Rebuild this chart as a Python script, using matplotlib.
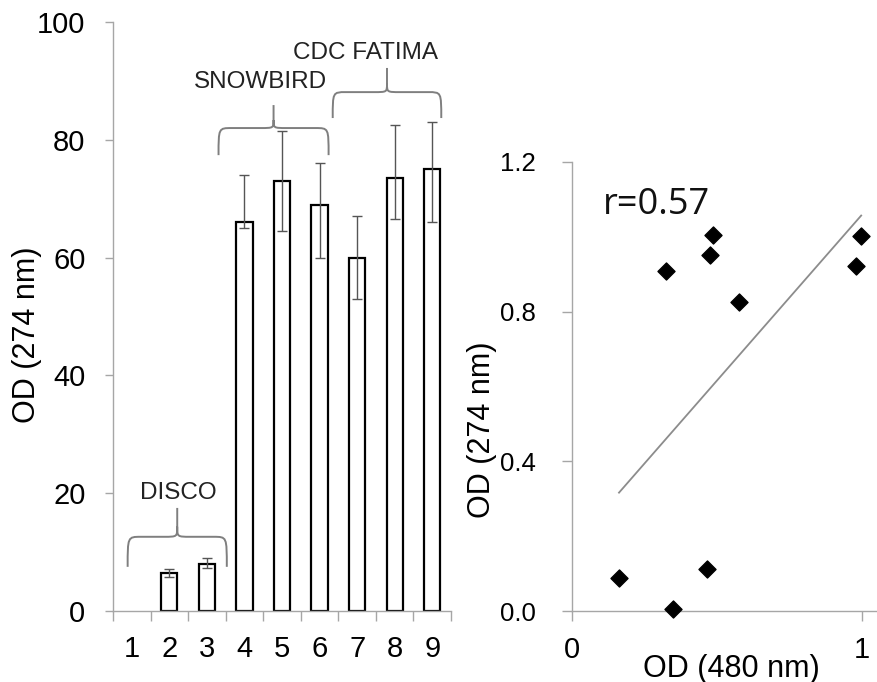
import numpy as np
import matplotlib
matplotlib.use("Agg")
import matplotlib.pyplot as plt
from matplotlib.path import Path
from matplotlib.patches import PathPatch

# --- bar chart data: OD at 274 nm per sample ---
samples = [1, 2, 3, 4, 5, 6, 7, 8, 9]
od274 = [0, 6.4, 8.0, 66, 73, 69, 60, 73.5, 75]
err_low = [0, 0.7, 0.7, 1.0, 8.5, 9.0, 7.0, 7.0, 9.0]
err_high = [0, 0.7, 1.0, 8.0, 8.5, 7.0, 7.0, 9.0, 8.0]
y_ticks_left = [0, 20, 40, 60, 80, 100]

# cultivar groups: (label, first sample, last sample)
groups = [("DISCO", 1, 3), ("SNOWBIRD", 4, 6), ("CDC FATIMA", 7, 9)]

# --- scatter data: OD 480 nm vs OD 274 nm ---
od480_x = [0.162, 0.324, 0.348, 0.465, 0.476, 0.486, 0.576, 0.979, 0.997]
od274_y = [0.088, 0.909, 0.005, 0.112, 0.952, 1.005, 0.826, 0.922, 1.003]
y_ticks_right = [0.0, 0.4, 0.8, 1.2]
x_ticks_right = [0, 1]

FONT = "Liberation Sans"
AXIS_GRAY = "#a6a6a6"
BRACE_GRAY = "#7f7f7f"

plt.rcParams["font.family"] = [FONT, "DejaVu Sans"]

fig = plt.figure(figsize=(8.78, 6.82), dpi=100)

# ---------------- left panel: bars ----------------
ax1 = fig.add_axes([0.1287, 0.1041, 0.385, 0.8636])
vals = np.array(od274, dtype=float)
xs = np.array(samples, dtype=float)
lo = np.array(err_low)
hi = np.array(err_high)
show = vals > 0
ax1.bar(xs[show], vals[show], width=0.43, color="white",
        edgecolor="black", linewidth=1.6, zorder=2)
ax1.errorbar(xs[show], vals[show], yerr=[lo[show], hi[show]], fmt="none",
             ecolor="#555555", elinewidth=1.0, capsize=3.5, capthick=1.0,
             zorder=3)

ax1.set_xlim(0.5, 9.5)
ax1.set_ylim(0, 100)
ax1.set_xticks(samples)
ax1.set_xticklabels([str(s) for s in samples])
ax1.set_xticks(np.arange(0.5, 9.6, 1.0), minor=True)
ax1.tick_params(axis="x", which="major", length=0, pad=17, labelsize=21)
ax1.tick_params(axis="x", which="minor", length=7.2, width=1.0,
                color=AXIS_GRAY, direction="out")
ax1.set_yticks(y_ticks_left)
ax1.tick_params(axis="y", length=5.8, width=1.0, color=AXIS_GRAY,
                pad=14, labelsize=21)
for s in ("top", "right"):
    ax1.spines[s].set_visible(False)
for s in ("left", "bottom"):
    ax1.spines[s].set_color(AXIS_GRAY)
    ax1.spines[s].set_linewidth(1.0)
ax1.set_ylabel("OD (274 nm)", fontsize=22)
ax1.yaxis.set_label_coords(-0.21, 0.469)


def brace(ax, x0, x1, y_end, y_mid, y_tip, r=0.35):
    """Curly brace opening downwards, tip pointing up at its centre."""
    xc = 0.5 * (x0 + x1)
    y_bend = y_mid + 0.35 * (y_tip - y_mid)
    verts = [
        (x0, y_end), (x0, y_mid), (x0, y_mid), (x0 + r, y_mid),
        (xc - r, y_mid),
        (xc, y_mid), (xc, y_mid), (xc, y_bend),
        (xc, y_tip),
        (xc, y_bend), (xc, y_mid), (xc, y_mid), (xc + r, y_mid),
        (x1 - r, y_mid),
        (x1, y_mid), (x1, y_mid), (x1, y_end),
    ]
    codes = [Path.MOVETO, Path.CURVE4, Path.CURVE4, Path.CURVE4,
             Path.LINETO,
             Path.CURVE4, Path.CURVE4, Path.CURVE4,
             Path.LINETO,
             Path.MOVETO, Path.CURVE4, Path.CURVE4, Path.CURVE4,
             Path.LINETO,
             Path.CURVE4, Path.CURVE4, Path.CURVE4]
    ax.add_patch(PathPatch(Path(verts, codes), facecolor="none",
                           edgecolor=BRACE_GRAY, linewidth=1.4,
                           clip_on=False, zorder=4))


# brace geometry per group: (x0, x1, y_end, y_mid, y_tip, label x, label y)
brace_layout = {
    "DISCO": (0.89, 3.53, 7.5, 12.6, 17.5, 2.25, 20.0),
    "SNOWBIRD": (3.31, 6.24, 77.4, 82.0, 85.9, 4.43, 89.8),
    "CDC FATIMA": (6.35, 9.24, 83.7, 88.1, 92.2, 7.22, 94.7),
}
for name, first, last in groups:
    x0, x1, ye, ym, yt, lx, ly = brace_layout[name]
    brace(ax1, x0, x1, ye, ym, yt)
    ax1.text(lx, ly, name, ha="center", va="center", fontsize=17.5,
             color="#222222")

# ---------------- right panel: scatter ----------------
ax2 = fig.add_axes([0.6515, 0.1041, 0.3485, 0.6584])
ax2.scatter(od480_x, od274_y, marker="D", s=75, color="black",
            zorder=3, clip_on=False)
xa = np.array(od480_x)
ya = np.array(od274_y)
slope, intercept = np.polyfit(xa, ya, 1)
xl = np.array([xa.min(), xa.max()])
ax2.plot(xl, slope * xl + intercept, color="#8c8c8c", linewidth=1.3,
         zorder=2)
r = np.corrcoef(xa, ya)[0, 1]
ax2.text(0.105, 1.085, f"r={r:.2f}", fontsize=26, ha="left", va="center",
         family=["Open Sans", "DejaVu Sans"], color="#111111")

ax2.set_xlim(0, 1.055)
ax2.set_ylim(0, 1.2)
ax2.set_xticks(x_ticks_right)
ax2.set_xticklabels([str(t) for t in x_ticks_right])
ax2.set_yticks(y_ticks_right)
ax2.set_yticklabels([f"{t:.1f}" for t in y_ticks_right])
ax2.tick_params(axis="x", length=7.2, width=1.0, color=AXIS_GRAY, pad=11,
                labelsize=21)
ax2.tick_params(axis="y", length=7.2, width=1.0, color=AXIS_GRAY, pad=19,
                labelsize=18.5)
for s in ("top", "right"):
    ax2.spines[s].set_visible(False)
for s in ("left", "bottom"):
    ax2.spines[s].set_color(AXIS_GRAY)
    ax2.spines[s].set_linewidth(1.0)
ax2.set_xlabel("OD (480 nm)", fontsize=22)
ax2.xaxis.set_label_coords(0.52, -0.095)
ax2.set_ylabel("OD (274 nm)", fontsize=22)
ax2.yaxis.set_label_coords(-0.245, 0.403)

fig.savefig("out.png", dpi=100)
